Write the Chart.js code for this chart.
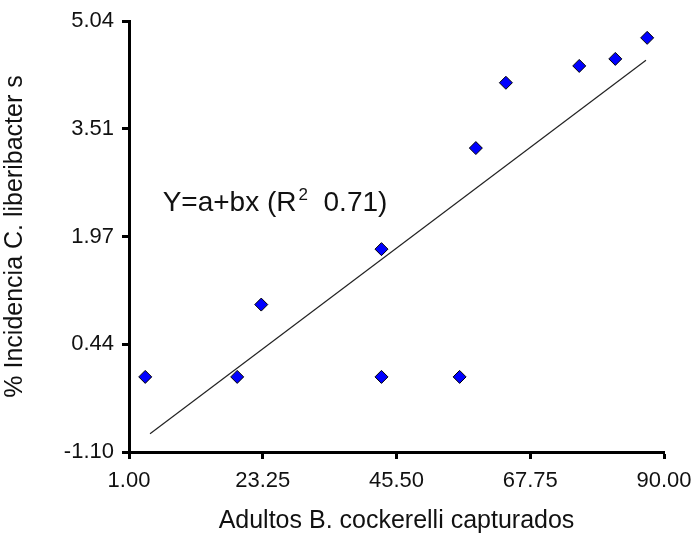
<!DOCTYPE html>
<html>
<head>
<meta charset="utf-8">
<script src="https://cdn.jsdelivr.net/npm/chart.js@4"></script>
<style>
  html, body { margin: 0; padding: 0; background: #fff; }
  #wrap { width: 695px; height: 533px; position: relative; }
</style>
</head>
<body>
<div id="wrap"><canvas id="chart"></canvas></div>
<script>
// captured adults vs. incidence
const adultos = [3.7, 19, 23, 43, 43, 56, 58.7, 63.7, 75.9, 81.9, 87.2];
const incidencia = [-0.03, -0.03, 1.0, 1.79, -0.03, -0.03, 3.23, 4.16, 4.4, 4.5, 4.8];

// fitted line end points
const fitX = [4.5, 87];
const fitY = [-0.84, 4.48];

const xTicks = [1.0, 23.25, 45.5, 67.75, 90.0];
const yTickLabels = ["-1.10", "0.44", "1.97", "3.51", "5.04"];
const yMin = -1.1;
const yMax = 5.04;

const font = "'Liberation Sans', Arial, sans-serif";
const textColor = "#111";

const points = adultos.map((x, i) => ({ x: x, y: incidencia[i] }));
const fit = fitX.map((x, i) => ({ x: x, y: fitY[i] }));

// equation label drawn inside the plot
const equation = {
  id: "equation",
  afterDraw(chart) {
    const c = chart.ctx;
    const x0 = chart.scales.x.getPixelForValue(6.6);
    const y0 = chart.scales.y.getPixelForValue(2.33);
    c.save();
    c.fillStyle = textColor;
    c.textBaseline = "alphabetic";
    c.font = "28px " + font;
    const a = "Y=a+bx (R";
    c.fillText(a, x0, y0);
    let x = x0 + c.measureText(a).width + 2;
    c.font = "17px " + font;
    c.fillText("2", x, y0 - 11);
    x += c.measureText("2").width;
    c.font = "28px " + font;
    c.fillText("  0.71)", x, y0);
    c.restore();
  },
};

new Chart(document.getElementById("chart"), {
  type: "scatter",
  data: {
    datasets: [
      {
        label: "Incidencia",
        data: points,
        pointStyle: "rectRot",
        pointRadius: 6.5,
        pointHoverRadius: 6.5,
        backgroundColor: "#0000ff",
        borderColor: "#000",
        borderWidth: 1,
      },
      {
        label: "Ajuste",
        type: "line",
        data: fit,
        showLine: true,
        borderColor: "#222",
        borderWidth: 1.2,
        pointRadius: 0,
        fill: false,
      },
    ],
  },
  options: {
    responsive: true,
    maintainAspectRatio: false,
    animation: false,
    layout: { padding: { left: 0, right: 31, top: 21, bottom: 0 } },
    plugins: {
      legend: { display: false },
      tooltip: { enabled: false },
    },
    scales: {
      x: {
        type: "linear",
        min: 1,
        max: 90,
        afterBuildTicks: (axis) => {
          axis.ticks = xTicks.map((v) => ({ value: v }));
        },
        afterFit: (scale) => {
          scale.height = 81;
          scale.paddingLeft = 0;
          scale.paddingRight = 0;
        },
        ticks: {
          autoSkip: false,
          maxRotation: 0,
          padding: 9,
          color: textColor,
          font: { family: font, size: 22 },
          callback: (v) => Number(v).toFixed(2),
        },
        grid: {
          drawOnChartArea: false,
          drawTicks: true,
          tickLength: 7,
          tickWidth: 3,
          tickColor: "#000",
        },
        border: { display: true, width: 3, color: "#000" },
        title: {
          display: true,
          text: "Adultos B. cockerelli capturados",
          color: textColor,
          font: { family: font, size: 25 },
          padding: { top: 0, bottom: -3 },
        },
      },
      y: {
        type: "linear",
        min: yMin,
        max: yMax,
        afterBuildTicks: (axis) => {
          const n = yTickLabels.length - 1;
          const step = (yMax - yMin) / n;
          axis.ticks = yTickLabels.map((_, i) => ({ value: yMin + i * step }));
        },
        afterFit: (scale) => {
          scale.width = 129;
          scale.paddingTop = 0;
          scale.paddingBottom = 0;
        },
        ticks: {
          autoSkip: false,
          padding: 8,
          color: textColor,
          font: { family: font, size: 22 },
          callback: (v, i) => yTickLabels[i],
        },
        grid: {
          drawOnChartArea: false,
          drawTicks: true,
          tickLength: 7,
          tickWidth: 3,
          tickColor: "#000",
        },
        border: { display: true, width: 3, color: "#000" },
        title: {
          display: true,
          text: "% Incidencia C. liberibacter s",
          color: textColor,
          font: { family: font, size: 25 },
          padding: { top: 0, bottom: 0 },
        },
      },
    },
  },
  plugins: [equation],
});
</script>
</body>
</html>
